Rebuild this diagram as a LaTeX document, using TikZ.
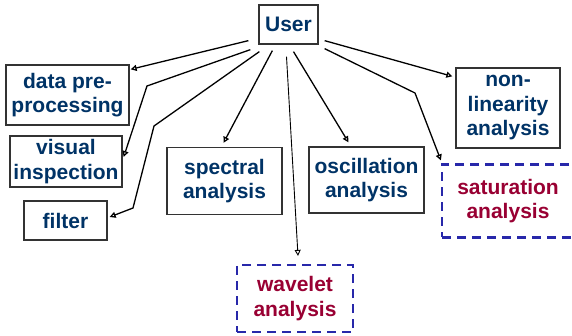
\documentclass[tikz,border=0pt]{standalone}
\usepackage{fontspec}
\setmainfont{Liberation Sans}
\usetikzlibrary{arrows.meta,calc}

\definecolor{navytext}{RGB}{0,51,102}
\definecolor{wine}{RGB}{153,0,51}
\definecolor{dashblue}{RGB}{40,40,170}

\tikzset{
    box/.style={draw=black!80, line width=1.3pt, fill=white, align=center,
        text=navytext, font=\fontsize{21}{24.5}\selectfont\bfseries,
        inner sep=0pt},
    dashbox/.style={box, draw=dashblue, line width=2.2pt,
        dash pattern=on 9pt off 6pt, text=wine},
    link/.style={line width=1.3pt, -{Triangle[open,length=6pt,width=6pt]}}
}

\begin{document}
\begin{tikzpicture}[x=1pt,y=-1pt]
        \useasboundingbox (0,0) rectangle (572,336);
        \clip (0,0) rectangle (572,336);

        \node[box, minimum width=59pt, minimum height=39pt] (user) at (288.5,24.5) {User};
        \node[box, minimum width=123pt, minimum height=60pt] (prep) at (67.5,95) {data pre-\\processing};
        \node[box, minimum width=112pt, minimum height=51pt] (visual) at (66,161.5) {visual\\inspection};
        \node[box, minimum width=83pt, minimum height=39pt] (filter) at (65.5,220.5) {filter};
        \node[box, minimum width=115pt, minimum height=67pt] (spectral) at (224.5,181) {spectral\\analysis};
        \node[box, minimum width=115pt, minimum height=66pt] (osc) at (366.5,180) {oscillation\\analysis};
        \node[box, minimum width=104pt, minimum height=80pt] (nonlin) at (508,108) {non-\\linearity\\analysis};
        \node[dashbox, minimum width=132pt, minimum height=73pt] (satur) at (508,201) {saturation\\analysis};
        \node[dashbox, minimum width=116pt, minimum height=67pt] (wavelet) at (295,298.5) {wavelet\\analysis};

        % bend points of the broken arrows
        \coordinate (vbend) at (147,86);
        \coordinate (fbend1) at (154,126);
        \coordinate (fbend2) at (133,208);
        \coordinate (sbend) at (415,93);

        % arrows out of the user box
        \draw[link] ($(user.south west)+(-10,-4)$) -- ($(prep.north east)+(1,5)$);
        \draw[link] ($(user.south west)+(-8,5)$) -- (vbend) -- ($(visual.east)+(1,-4.5)$);
        \draw[link] ($(user.south west)+(1,7)$) -- (fbend1) -- (fbend2) -- ($(filter.east)+(2,-3.5)$);
        \draw[link] ($(user.south west)+(14,6)$) -- ($(spectral.north)+(-1,-4)$);
        \draw[link, line width=0.9pt] ($(user.south)+(-2,12)$) -- ($(wavelet.north)+(3,-8)$);
        \draw[link] ($(user.south)+(5,7)$) -- ($(osc.north)+(-18,-4)$);
        \draw[link] ($(user.south east)+(6,-4)$) -- ($(nonlin.north west)+(-3,9)$);
        \draw[link] ($(user.south east)+(6,4)$) -- (sbend) -- ($(satur.north west)+(0,-3)$);
\end{tikzpicture}
\end{document}
